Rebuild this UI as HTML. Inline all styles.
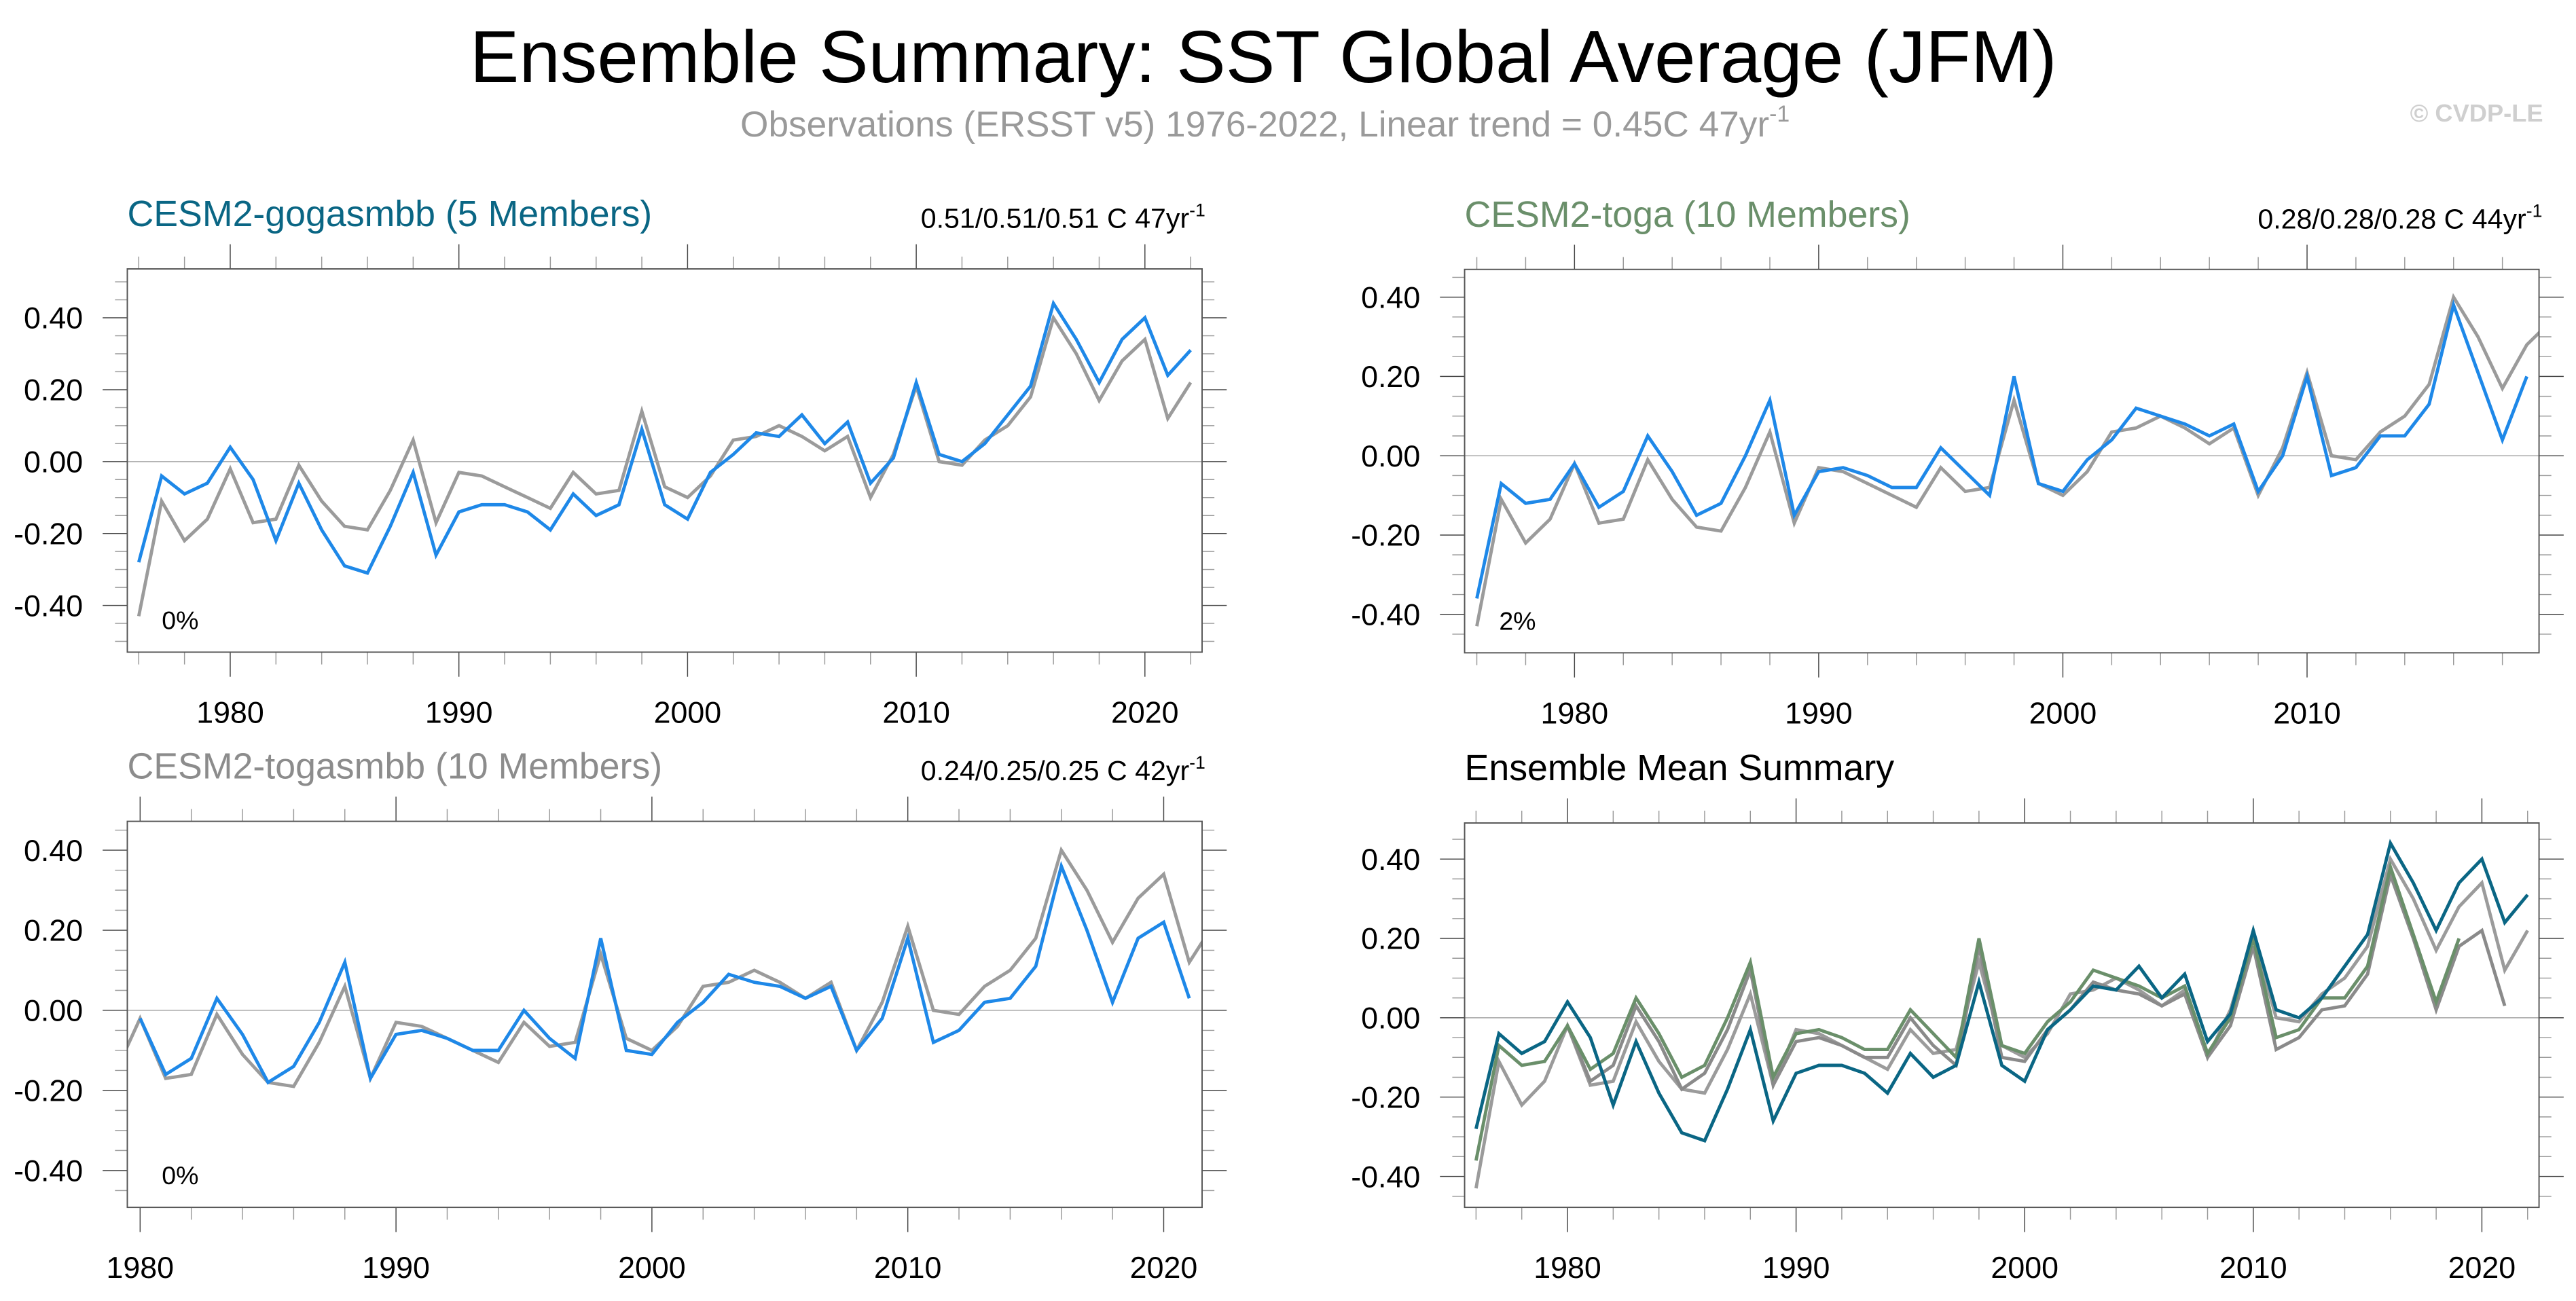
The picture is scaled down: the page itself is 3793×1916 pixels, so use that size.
<!DOCTYPE html>
<html><head><meta charset="utf-8"><style>
html,body{margin:0;padding:0;background:#fff;}
svg{display:block;font-family:"Liberation Sans",sans-serif;}
</style></head><body>
<svg id="chart" width="3793" height="1916" viewBox="0 0 1568 792" preserveAspectRatio="none" xmlns="http://www.w3.org/2000/svg">
<rect x="0" y="0" width="1568" height="792" fill="#fff"/>
<text x="769" y="50" font-size="45" text-anchor="middle" fill="#000">Ensemble Summary: SST Global Average (JFM)</text>
<text x="770" y="83" font-size="22" text-anchor="middle" fill="#9a9a9a">Observations (ERSST v5) 1976-2022, Linear trend = 0.45C 47yr<tspan font-size="14" dy="-9">-1</tspan></text>
<text x="1548" y="74" font-size="15" font-weight="bold" text-anchor="end" fill="#cfcfcf">© CVDP-LE</text>
<g id="plots"></g>
</svg>
<script>
const obsYears = [1976,1977,1978,1979,1980,1981,1982,1983,1984,1985,1986,1987,1988,1989,1990,1991,1992,1993,1994,1995,1996,1997,1998,1999,2000,2001,2002,2003,2004,2005,2006,2007,2008,2009,2010,2011,2012,2013,2014,2015,2016,2017,2018,2019,2020,2021,2022];
const obsValues = [-0.43,-0.11,-0.22,-0.16,-0.02,-0.17,-0.16,-0.01,-0.11,-0.18,-0.19,-0.08,0.06,-0.17,-0.03,-0.04,-0.07,-0.10,-0.13,-0.03,-0.09,-0.08,0.14,-0.07,-0.10,-0.04,0.06,0.07,0.10,0.07,0.03,0.07,-0.10,0.02,0.21,0.00,-0.01,0.06,0.10,0.18,0.40,0.30,0.17,0.28,0.34,0.12,0.22];
const gogaYears = obsYears;
const gogaValues = [-0.28,-0.04,-0.09,-0.06,0.04,-0.05,-0.22,-0.06,-0.19,-0.29,-0.31,-0.18,-0.03,-0.26,-0.14,-0.12,-0.12,-0.14,-0.19,-0.09,-0.15,-0.12,0.09,-0.12,-0.16,-0.03,0.02,0.08,0.07,0.13,0.05,0.11,-0.06,0.01,0.22,0.02,0.00,0.05,0.13,0.21,0.44,0.34,0.22,0.34,0.40,0.24,0.31];
const togaYears = obsYears.slice(0,44);
const togaValues = [-0.36,-0.07,-0.12,-0.11,-0.02,-0.13,-0.09,0.05,-0.04,-0.15,-0.12,0.00,0.14,-0.15,-0.04,-0.03,-0.05,-0.08,-0.08,0.02,-0.04,-0.10,0.20,-0.07,-0.09,-0.01,0.04,0.12,0.10,0.08,0.05,0.08,-0.09,0.00,0.20,-0.05,-0.03,0.05,0.05,0.13,0.38,0.21,0.04,0.20];
const togasYears = obsYears.slice(4,46);
const togasValues = [-0.02,-0.16,-0.12,0.03,-0.06,-0.18,-0.14,-0.03,0.12,-0.17,-0.06,-0.05,-0.07,-0.10,-0.10,0.00,-0.07,-0.12,0.18,-0.10,-0.11,-0.03,0.02,0.09,0.07,0.06,0.03,0.06,-0.10,-0.02,0.18,-0.08,-0.05,0.02,0.03,0.11,0.36,0.20,0.02,0.18,0.22,0.03];
const yTickLabels = ["-0.40","-0.20","0.00","0.20","0.40"];
const yTickValues = [-0.4,-0.2,0,0.2,0.4];

const BLUE="#1e88e8", GREY="#9b9b9b", TEAL="#0a6684", GREEN="#6a8f6a";
const NS="http://www.w3.org/2000/svg";
const root=document.getElementById('plots');
function mk(tag,attrs,parent){const e=document.createElementNS(NS,tag);for(const k in attrs)e.setAttribute(k,attrs[k]);(parent||root).appendChild(e);return e;}

const panels=[
 {id:'p1',L:77.5,R:731.7,T:163.7,B:397,x0:1975.5,x1:2022.5,y0:-0.53,y1:0.536,title:'CESM2-gogasmbb (5 Members)',tcol:TEAL,trend:'0.51/0.51/0.51 C 47yr',pct:'0%',
  series:[[obsYears,obsValues,GREY,'obs-line'],[gogaYears,gogaValues,BLUE,'gogasmbb-line']]},
 {id:'p2',L:891.5,R:1545.5,T:164,B:397.4,x0:1975.5,x1:2019.5,y0:-0.497,y1:0.47,title:'CESM2-toga (10 Members)',tcol:GREEN,trend:'0.28/0.28/0.28 C 44yr',pct:'2%',
  series:[[obsYears,obsValues,GREY,'obs-line'],[togaYears,togaValues,BLUE,'toga-line']]},
 {id:'p3',L:77.5,R:731.7,T:500,B:735,x0:1979.5,x1:2021.5,y0:-0.492,y1:0.472,title:'CESM2-togasmbb (10 Members)',tcol:'#8c8c8c',trend:'0.24/0.25/0.25 C 42yr',pct:'0%',
  series:[[obsYears,obsValues,GREY,'obs-line'],[togasYears,togasValues,BLUE,'togasmbb-line']]},
 {id:'p4',L:891.5,R:1545.5,T:501,B:735,x0:1975.5,x1:2022.5,y0:-0.478,y1:0.491,title:'Ensemble Mean Summary',tcol:'#000',trend:null,pct:null,
  series:[[obsYears,obsValues,GREY,'obs-line'],[togasYears,togasValues,'#8a8a8a','togasmbb-mean-line'],[togaYears,togaValues,GREEN,'toga-mean-line'],[gogaYears,gogaValues,TEAL,'gogasmbb-mean-line']]}
];

panels.forEach((p,i)=>{
  const g=mk('g',{});
  
  
  const X=v=>p.L+(v-p.x0)/(p.x1-p.x0)*(p.R-p.L);
  const Y=v=>p.B-(v-p.y0)/(p.y1-p.y0)*(p.B-p.T);
  const cid='clip'+p.id;
  const cp=mk('clipPath',{id:cid},g); mk('rect',{x:p.L,y:p.T,width:p.R-p.L,height:p.B-p.T},cp);
  const t=mk('text',{x:p.L,y:p.T-26,'font-size':22.2,fill:p.tcol},g); t.textContent=p.title;
  
  
  if(p.trend){const tr=mk('text',{x:p.R+2,y:p.T-25,'font-size':17,'text-anchor':'end',fill:'#000'},g);
    tr.textContent=p.trend; const s=mk('tspan',{'font-size':11,dy:-7},tr); s.textContent='-1';
    
    }
  const z=mk('line',{x1:p.L,x2:p.R,y1:Y(0),y2:Y(0),stroke:'#b0b0b0','stroke-width':0.7},g);
  
  
  for(let k=-10;k<=10;k++){const v=k*0.05; if(v<p.y0-1e-9||v>p.y1+1e-9)continue;
    const major=(k%4===0); const len=major?15:7.5; const y=Y(v);
    mk('line',{x1:p.L-len,x2:p.L,y1:y,y2:y,stroke:major?'#444':'#999','stroke-width':0.6},g);
    mk('line',{x1:p.R,x2:p.R+len,y1:y,y2:y,stroke:major?'#444':'#999','stroke-width':0.6},g);}
  yTickValues.forEach((v,j)=>{const tl=mk('text',{x:p.L-27,y:Y(v)+6.5,'font-size':18.5,'text-anchor':'end',fill:'#000'},g);tl.textContent=yTickLabels[j];
    
    });
  for(let yr=1970;yr<=2030;yr+=2){if(yr<p.x0||yr>p.x1)continue;const major=(yr%10===0);const len=major?15:7.5;const x=X(yr);
    mk('line',{x1:x,x2:x,y1:p.B,y2:p.B+len,stroke:major?'#444':'#999','stroke-width':0.6},g);
    mk('line',{x1:x,x2:x,y1:p.T-len,y2:p.T,stroke:major?'#444':'#999','stroke-width':0.6},g);
    if(major){const xl=mk('text',{x:x,y:p.B+43,'font-size':18.5,'text-anchor':'middle',fill:'#000'},g);xl.textContent=String(yr);
      
      }}
  p.series.forEach(s=>{const [ys,vs,col,name]=s;
    const pts=ys.map((yr,j)=>X(yr).toFixed(2)+','+Y(vs[j]).toFixed(2)).join(' ');
    const pl=mk('polyline',{points:pts,fill:'none',stroke:col,'stroke-width':2.0,'stroke-linejoin':'miter','clip-path':'url(#'+cid+')'},g);
    
    });
  const fr=mk('rect',{x:p.L,y:p.T,width:p.R-p.L,height:p.B-p.T,fill:'none',stroke:'#555','stroke-width':0.8},g);
  
  
  if(p.pct){const pc=mk('text',{x:p.L+21,y:p.B-14,'font-size':15.5,fill:'#000'},g);pc.textContent=p.pct;
    
    }
});
</script>
</body></html>
